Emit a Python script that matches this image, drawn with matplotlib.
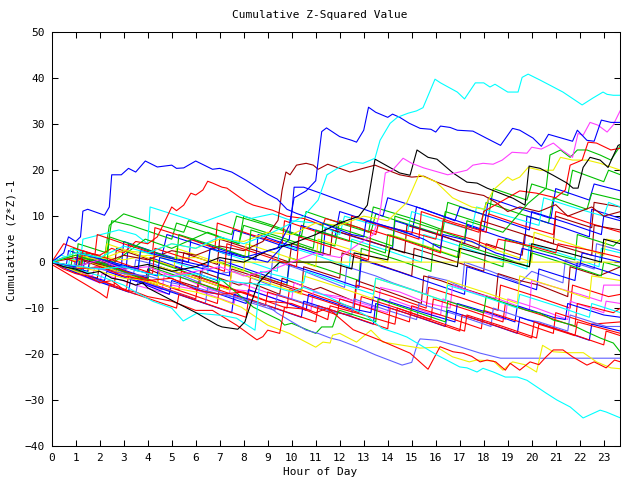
import matplotlib
matplotlib.use('Agg')
import matplotlib.pyplot as plt

# gnuplot-ish palette
RED = '#ff0000'
GREEN = '#00c000'
BLUE = '#0000ff'
MAGENTA = '#ff40ff'
CYAN = '#00ffff'
DARKRED = '#a00000'
YELLOW = '#f0f000'
BLACK = '#000000'
SLATE = '#6060ff'

# (hour, cumulative value) vertices
blue_a = [(0, 0), (0.5, 2), (0.7, 5.5), (1.0, 4.5), (1.2, 5.5), (1.3, 11.1), (1.5, 11.5), (2.2, 10.2),
          (2.4, 12), (2.5, 19), (2.9, 19), (3.2, 20.4), (3.5, 19.6), (3.9, 22), (4.4, 20.7), (5.0, 21.1),
          (5.2, 20.4), (5.5, 20.5), (6.0, 22), (6.7, 20.2), (7.0, 20.4), (7.5, 19.6), (8.1, 17.8),
          (9.0, 14.8), (9.4, 13.7), (9.8, 11.5), (10.2, 10.6), (10.8, 9.5), (11.5, 8), (12.5, 6),
          (13.0, 5.5), (13.1, 9), (14.5, 7), (15.5, 5), (16.2, 3), (16.3, 6), (17.5, 4.5), (18.5, 2),
          (19.5, 0.5), (19.6, 3), (21, 1), (22, -1), (22.1, 2), (23.7, 0)]
blue_high = [(0, 0), (1, -1), (1.1, 2), (2.5, 0), (3.6, -1.5), (3.7, 2.5), (5.2, 0.5), (6.5, -1), (6.6, 3),
             (8.0, 1), (9.4, 3), (9.9, 8), (10.1, 14), (10.6, 15.5), (11.0, 17.7), (11.25, 28.4),
             (11.45, 29.2), (12.0, 27.3), (12.5, 26.5), (12.7, 26.1), (13.0, 28.7), (13.2, 33.7),
             (13.5, 32.6), (14.0, 31.5), (14.2, 32.2), (14.5, 31.5), (14.9, 30.2), (15.35, 29.1),
             (15.8, 28.9), (16.0, 28.3), (16.2, 29.6), (16.6, 29.3), (16.9, 28.7), (17.55, 28.5),
             (18.1, 27.0), (18.7, 25.4), (19.2, 29.1), (19.5, 28.7), (20.05, 27.0), (20.4, 25.2),
             (20.7, 27.8), (21.1, 27.2), (21.7, 26.3), (21.9, 28.7), (22.3, 26.5), (22.6, 26.3),
             (22.9, 30.9), (23.3, 30.4), (23.7, 30.4)]
cyan_top = [(0, 0), (1, 2), (2, 1), (3, 3.5), (4, 2), (5, 4), (6, 3), (7, 5.5), (8, 4), (9, 6), (9.8, 8),
            (10.5, 10), (11.1, 13.5), (11.47, 19), (12.0, 20.7), (12.55, 21.8), (12.97, 21.5),
            (13.47, 22.6), (13.68, 26.5), (14.1, 30.2), (14.4, 31.5), (14.85, 32.4), (15.2, 32.9),
            (15.47, 33.6), (15.97, 39.8), (16.2, 39), (16.9, 37.0), (17.2, 35.5), (17.65, 39),
            (18.0, 39), (18.26, 38.1), (18.47, 38.7), (19.0, 37), (19.43, 37), (19.6, 40.2),
            (19.85, 40.9), (20.35, 39.6), (20.9, 38.1), (21.3, 37), (22.1, 34.2), (22.55, 35.7),
            (22.97, 37), (23.14, 36.5), (23.4, 36.3), (23.7, 36.3)]
cyan_bottom = [(0, 0), (1, -0.8), (2, -1.5), (3, -1), (4, -2.5), (5, -3.2), (6, -2.5), (7, -4), (8, -4.5),
               (9, -5), (10, -6.5), (10.5, -5.5), (11.5, -7.5), (12.43, -9.8), (13.1, -11.6),
               (13.76, -14.4), (14.4, -15.5), (14.8, -16.3), (15.35, -18.0), (16.05, -20.2),
               (16.6, -21.7), (17.0, -22.8), (17.3, -23.0), (17.72, -23.9), (17.97, -23.1),
               (18.4, -23.9), (18.9, -25), (19.4, -25), (19.8, -25.7), (20.6, -28.5), (21.05, -30),
               (21.6, -31.5), (22.14, -33.9), (22.85, -32.2), (23.1, -32.6), (23.7, -33.9)]
cyan_dip = [(0, 0), (1, -1.5), (2, -3), (3, -5), (3.5, -6.5), (4.2, -8.5), (5.0, -10), (5.48, -12.8),
            (6.05, -11.1), (7.1, -11.6), (7.7, -12.2), (8.47, -14.8), (8.6, -8.3), (8.7, -2),
            (9.5, -3), (10.5, -4.5), (10.6, -2), (12.0, -4.5), (13.4, -7), (13.5, -3.5), (15.0, -6),
            (16.4, -8.5), (16.5, -5), (18.0, -7.5), (19.4, -10), (19.5, -7), (21.0, -9.5),
            (22.4, -12), (22.5, -9), (23.7, -11)]
red_top = [(0, 0), (0.5, 1), (1, 0), (1.5, 2), (2, 1.5), (2.5, 3), (3, 2), (3.5, 4.5), (4.0, 4),
           (4.4, 5.5), (4.8, 9.8), (5.0, 12), (5.2, 11.2), (5.5, 12.4), (5.8, 15), (6.0, 14.6),
           (6.3, 15.7), (6.5, 17.6), (6.7, 17.2), (7.1, 16.3), (7.3, 16.1), (7.7, 14.6), (8.1, 13.1),
           (8.4, 12.4), (9.2, 11.3), (9.8, 10), (10.5, 9.5), (11.3, 8), (11.4, 9.5), (12.8, 7.5),
           (13.5, 6), (13.6, 8), (15, 6.5), (16, 5), (16.1, 7), (17.5, 5), (18.5, 3), (18.6, 5),
           (20, 3.5), (21, 2), (21.1, 4), (22.5, 2.5), (23.7, 1)]
darkred_top = [(0, 0), (1, 1), (2, -0.5), (3, 1.5), (4, 0.5), (5, 2.5), (6, 1.5), (7, 3.5), (8, 2.5),
               (8.8, 4.5), (9.43, 9.1), (9.6, 15.7), (9.76, 19.6), (9.93, 19), (10.2, 21.1),
               (10.6, 21.5), (10.9, 21.1), (11.1, 20.2), (11.5, 21.3), (12.0, 20.4), (12.43, 19.6),
               (12.9, 20.3), (13.47, 21.1), (14, 20), (14.5, 19), (15, 18.5), (15.5, 18.7), (16, 17.5),
               (17, 15.5), (18, 14.5), (18.5, 13), (19, 11), (19.5, 12), (20.3, 11), (21, 12.5),
               (21.5, 10), (22, 11), (22.5, 12), (23, 10), (23.7, 11)]
black_right = [(0, 0), (1, -1), (2, 0.5), (3, -1.5), (4, -0.5), (5, -2), (6, -1), (7, 1), (8, 0),
               (9, 2.5), (10, 4), (11, 6), (12, 8.5), (12.8, 10), (13.15, 12.4), (13.47, 22.4),
               (14.5, 19.4), (14.93, 18.9), (15.22, 24.4), (15.68, 22.8), (16.05, 22.4), (16.72, 19.4),
               (17.3, 17.4), (17.72, 17.2), (18.14, 16.1), (18.68, 15.0), (19.22, 13.9), (19.72, 12.4),
               (19.89, 20.9), (20.35, 20.4), (20.89, 18.9), (21.47, 17.2), (21.72, 16.1), (21.93, 16.1),
               (22.14, 20.6), (22.43, 22.8), (22.85, 22.2), (23.18, 20.6), (23.35, 22.6), (23.6, 25.4),
               (23.7, 25.6)]
black_left = [(0, 0), (0.5, -1), (1, -1.5), (1.5, -2.5), (2, -2), (2.5, -3.5), (3, -4), (3.5, -5),
              (3.8, -4.5), (4.0, -5.6), (5.0, -8.3), (6.05, -11.1), (6.9, -13.7), (7.1, -14.1),
              (7.5, -14.4), (7.75, -14.6), (8.05, -13), (8.2, -10.5), (8.35, -8.3), (8.6, -4.6),
              (8.9, -3), (9.5, 0), (11.6, 0), (12.5, -1.5), (12.6, 2), (14, 0.5), (14.1, 3), (15.5, 1),
              (16.9, -1), (17.0, 3), (18.5, 1), (19.9, -1), (20.0, 4), (21.5, 2), (22.9, 0), (23.0, 5),
              (23.7, 4)]
magenta_top = [(0, 0), (1, -1), (2, 0.5), (3, -1.5), (4, -1), (5, -3), (6, -2), (7, -1), (8, -3), (9, -2),
               (10, 0), (11, 2), (12, 1), (12.8, 4), (13.4, 6), (13.68, 10.7), (13.9, 19.4), (14.2, 20),
               (14.64, 22.6), (15.0, 21.5), (15.5, 20.5), (16.5, 19), (17.3, 20), (17.55, 21.1),
               (17.97, 21.5), (18.39, 21.3), (18.77, 22.2), (19.18, 23.9), (19.8, 23.7), (20.0, 25.0),
               (20.4, 24.6), (20.9, 25.9), (21.2, 24.6), (21.7, 22.8), (21.93, 28.0), (22.14, 27.6),
               (22.43, 30.4), (22.76, 29.8), (23.14, 28.3), (23.39, 29.8), (23.7, 33.1)]
red_bottom = [(0, 0), (1, -1.5), (2, -1), (3, -3), (4, -4), (5, -3.5), (6, -6), (7, -7), (8, -6.5),
              (9, -8.5), (10, -9), (11, -11), (11.5, -10), (12.56, -14.7), (13.68, -17), (14.93, -19.8),
              (15.68, -23.3), (16.18, -18.4), (16.72, -19.5), (17.13, -19.8), (17.5, -20.5),
              (17.85, -21.7), (18.14, -21.3), (18.5, -21.7), (18.9, -23.5), (19.1, -22), (19.5, -23.5),
              (19.93, -21.7), (20.3, -22.3), (20.6, -20.6), (20.9, -19.1), (21.3, -19.1), (21.7, -20.6),
              (22.3, -22.4), (22.6, -21.7), (23.1, -23), (23.45, -21.3), (23.7, -21.7)]
red_dip = [(0, 0), (0.5, -1.5), (1, -2.5), (1.5, -3), (2, -4.5), (2.5, -4), (3, -6), (3.5, -6.5),
           (4, -7.5), (5, -8.5), (6, -10.5), (6.7, -10.5), (7.7, -13.7), (8.55, -16.9), (8.8, -16.2),
           (9.0, -14.8), (9.5, -15.5), (9.7, -9.8), (10.5, -10.2), (11.5, -12.5), (11.6, -9.5),
           (13, -11.5), (14.3, -13.5), (14.4, -10), (15.8, -12.5), (17.2, -15), (17.3, -11.5),
           (18.8, -14), (20.2, -16.5), (20.3, -13.5), (21.8, -16), (21.9, -13), (23.7, -15.5)]
yellow_bottom = [(0, 0), (1, -1), (2, -2), (3, -3.5), (4, -4), (5, -5.5), (6, -6.5), (7, -8), (7.9, -9.8),
                 (9.0, -13.7), (9.9, -15.5), (11.0, -18.5), (11.3, -17.4), (11.6, -17.6), (11.7, -15.9),
                 (12.0, -15.5), (12.7, -17.4), (13.3, -14.8), (13.8, -17.4), (15.35, -18.7),
                 (16.05, -18.5), (16.7, -20.6), (17.4, -21.7), (17.7, -21.3), (18.4, -21.5),
                 (18.8, -23.5), (19.2, -21.7), (19.7, -22.3), (20.2, -23.9), (20.45, -18.1),
                 (20.9, -19.5), (21.5, -19.7), (22.15, -19.7), (22.7, -21.7), (23.3, -23), (23.7, -23.2)]
slate_flat = [(0, 0), (1, -1), (2, -1.5), (3, -2.5), (4, -3), (5, -4.5), (6, -5.5), (7, -7), (8, -8),
              (9, -9.5), (9.4, -11.1), (10.6, -14.8), (11.1, -15.5), (11.6, -16.5), (12.0, -17),
              (12.7, -18.4), (13.5, -20.2), (14.6, -22.4), (15.0, -21.8), (15.25, -17.6),
              (15.35, -16.7), (16.05, -17), (17.0, -18.4), (17.85, -19.8), (18.7, -20.9), (23.7, -20.9)]
green_low = [(0, 0), (1.2, -2), (1.3, 1), (2.7, -1.5), (4.0, -4), (4.1, -1), (5.5, -3.5), (6.9, -6),
             (7.0, -3.5), (8.4, -9.8), (9.5, -12.6), (9.7, -13.7), (10.0, -13.3), (10.5, -14.4),
             (11.0, -15.5), (11.25, -14.1), (11.7, -14.1), (11.9, -11.1), (12.0, -10.5), (13.5, -13),
             (13.6, -8), (15.0, -10.5), (16.4, -13), (16.5, -8.5), (18.0, -11), (18.1, -7.5),
             (19.8, -10.5), (20.35, -11.1), (20.9, -12.6), (21.7, -13.7), (22.3, -15.2), (22.85, -16.5),
             (23.4, -17.6), (23.7, -19.6)]
yellow_zero = [(0, 0), (0.5, 0.8), (1, 0.3), (2, 1.2), (3, 0.5), (4, 1.5), (5, 0.8), (6, 1), (6.7, 0),
               (23.7, 0)]
yellow_top = [(0, 0), (1, 1.5), (2, 0.5), (3, 2.5), (4, 2), (5, 4), (6, 3), (7, 5), (8, 4.5), (9, 6.5),
              (10, 6), (11, 8.5), (12, 8), (13, 10), (14, 9), (14.8, 13), (15.3, 19), (16.0, 17.5),
              (16.7, 14), (17.5, 12), (18.0, 11.5), (18.4, 15.7), (19.0, 18.5), (19.2, 17.8),
              (19.5, 18.5), (19.85, 20.6), (20.35, 20), (20.9, 20), (21.2, 22.8), (21.7, 22.2),
              (22.3, 22.2), (22.85, 21.5), (23.7, 20)]
green_tr = [(0, 0), (1.0, 1.5), (2.3, -0.5), (2.4, 5.5), (3.8, 3), (5.2, 0.5), (5.3, 6), (6.8, 3.5),
            (8.2, 1), (8.3, 7), (9.8, 4.5), (11.2, 2), (11.3, 8.5), (12.8, 6), (14.2, 3.5), (14.3, 10),
            (15.8, 7.5), (17.2, 5), (17.3, 9), (18.8, 6.5), (19.85, 12.8), (20.6, 16.1), (20.76, 23.3),
            (21.2, 24.4), (21.6, 22.8), (21.9, 24.4), (22.3, 24.4), (22.85, 23.3), (23.3, 22.2),
            (23.7, 25.4)]
red_right = [(0, 0), (1.2, -1), (1.3, 2.5), (2.8, 0), (4.2, -2.5), (4.3, 3), (5.8, 0.5), (7.2, -2),
             (7.3, 4), (8.8, 1.5), (10.2, -1), (10.3, 5.5), (11.8, 3), (13.2, 0.5), (13.3, 7),
             (14.8, 4.5), (16.2, 2), (16.3, 9), (17.8, 6.5), (18.0, 11), (19.5, 15.5), (20.2, 15),
             (21.0, 14), (21.4, 15.7), (21.6, 21.1), (22.1, 22.2), (22.35, 26.1), (22.7, 25.9),
             (23.3, 24.4), (23.7, 24.8)]
blue_k = [(0, 0), (1.5, -2), (1.6, 1), (3.0, -1), (4.4, -3), (4.5, 1), (6.0, -1), (7.4, -3), (7.5, 2),
          (9.0, 0), (9.9, 5), (10.1, 16.3), (10.5, 16.3), (11.2, 15), (12.5, 12.5), (13.8, 10),
          (14.0, 14), (15.5, 11.5), (16.8, 9), (17.0, 12), (18.5, 9.5), (19.9, 7), (20.0, 11),
          (21.5, 8.5), (22.9, 6), (23.0, 10), (23.7, 9)]

# the crowded band around zero
b01 = [(0, 0), (0.8, -1.2), (0.9, 3), (2.2, 1), (2.4, 8), (3.0, 10.5), (4.2, 8.5), (5.5, 6.5), (5.7, 9),
       (7.5, 6), (7.7, 10), (9.0, 8), (10.4, 5.5), (10.6, 11), (12.0, 8.5), (13.2, 6.5), (13.4, 12),
       (15.0, 9.5), (16.3, 7), (16.5, 13), (18.2, 10), (18.4, 16), (19.8, 13.5), (20.0, 17),
       (21.5, 14.5), (21.7, 20), (23.0, 17.5), (23.2, 20), (23.7, 19)]
b02 = [(0, 0), (0.6, -1), (0.7, 2.5), (2.0, 0.5), (3.1, -1.5), (3.2, 4), (4.6, 1.5), (4.8, 6), (6.0, 4),
       (7.4, 1.5), (7.6, 7), (8.8, 5), (10.2, 2.5), (10.4, 8), (11.8, 5.5), (12.0, 11), (13.5, 8.5),
       (15.0, 6), (15.2, 12), (16.6, 9.5), (18.0, 7), (18.2, 14), (19.6, 11.5), (20.8, 9.5), (21.0, 16),
       (22.4, 13.5), (22.6, 17), (23.7, 15.5)]
b03 = [(0, 0), (1.0, -1.5), (1.1, 4), (2.3, 2), (2.5, 9), (3.3, 8), (5.0, 5), (5.2, 8.5), (6.4, 6.5),
       (7.8, 4), (8.0, 10), (9.2, 8), (10.5, 5.5), (11.8, 3.5), (12.0, 9), (13.3, 6.5), (13.5, 10.5),
       (15.0, 8), (16.2, 6), (16.4, 11), (17.9, 8.5), (18.1, 13), (19.5, 10.5), (20.7, 8.5), (20.9, 14),
       (22.3, 11.5), (22.5, 15), (23.7, 13.5)]
b04 = [(0, 0), (1.3, -2), (1.4, 1.5), (2.9, -1), (3.0, 4.5), (4.4, 2), (5.7, 0), (5.8, 5), (7.2, 2.5),
       (8.5, 0.5), (8.6, 6), (10.0, 3.5), (11.3, 1.5), (11.4, 7.5), (12.9, 5), (14.2, 3), (14.3, 9),
       (15.8, 6.5), (17.2, 4), (17.3, 8), (18.7, 5.5), (19.7, 4), (19.8, 10), (21.3, 7.5), (22.4, 5.5),
       (22.5, 11.5), (23.7, 9.5)]
b05 = [(0, 0), (1.1, -2), (1.2, 0.5), (2.6, -2), (2.7, 3), (4.1, 0.5), (5.4, -1.5), (5.5, 2), (6.9, -0.5),
       (7.0, 5), (8.5, 2.5), (9.9, 0), (10.0, 4), (11.6, 1.5), (11.7, 7), (13.3, 4.5), (14.7, 2), (14.8, 8),
       (16.4, 5.5), (17.8, 3), (17.9, 9), (19.4, 6.5), (20.9, 4), (21.0, 10), (22.5, 7.5), (22.6, 13),
       (23.7, 12)]
b06 = [(0, 0), (0.4, 1.5), (1.2, 0), (1.3, 5), (2.8, 7), (3.5, 6), (4.0, 4), (4.1, 12), (5.0, 10.5),
       (6.2, 8.5), (7.5, 11), (8.3, 9.5), (9.2, 10.5), (10.0, 9), (11.0, 8.5), (12.0, 6), (12.2, 10),
       (13.5, 8), (14.8, 6), (15.0, 11), (16.5, 8.5), (17.5, 7), (17.7, 12), (19.0, 10), (20.3, 8),
       (20.5, 14), (22.0, 11.5), (23.0, 10), (23.2, 13), (23.7, 12)]
b07 = [(0, 0), (0.5, 4), (1.0, 3), (1.8, 1.5), (1.9, 6), (3.0, 4), (4.2, 2), (4.3, 7.5), (5.5, 5.5),
       (6.8, 3), (6.9, 8.5), (8.3, 6), (9.6, 4), (9.7, 9), (11.1, 6.5), (12.4, 4.5), (12.5, 10),
       (13.9, 7.5), (15.3, 5), (15.4, 11), (16.8, 8.5), (18.1, 6.5), (18.2, 10.5), (19.6, 8), (20.9, 6),
       (21.0, 11), (22.4, 8.5), (23.7, 6.5)]
b08 = [(0, 0), (1.5, -2.5), (1.6, 0), (3.0, -2.5), (4.4, -5), (4.5, -1), (6.0, -3.5), (7.4, -6),
       (7.5, -1.5), (9.0, -4), (10.4, -6.5), (10.5, -1), (12.0, -3.5), (12.1, 2), (13.6, -0.5), (15.0, -3),
       (15.1, 3), (16.6, 0.5), (18.0, -2), (18.1, 4), (19.6, 1.5), (19.7, 6), (21.2, 3.5), (22.5, 1.5),
       (22.6, 8), (23.7, 7)]
b09 = [(0, 0), (1.2, -2), (1.3, 1), (2.7, -1.5), (4.0, -3.5), (4.1, 0.5), (5.5, -2), (6.9, -4.5), (7.0, 0),
       (8.4, -2.5), (9.8, -5), (9.9, 1), (11.4, -1.5), (12.8, -4), (12.9, 3), (14.4, 0.5), (15.8, -2),
       (15.9, 4), (17.4, 1.5), (18.8, -1), (18.9, 5), (20.4, 2.5), (21.8, 0.5), (21.9, 6), (23.4, 3.5),
       (23.7, 5)]
b10 = [(0, 0), (0.9, -1.5), (1.0, 1), (2.1, -0.5), (3.4, -3), (3.5, 0.5), (4.3, -0.5), (5.0, -2),
       (6.2, -4.5), (6.3, -1), (7.0, -2.5), (7.6, -2), (9.1, -5), (9.2, 0.5), (10.3, -1.5), (11.0, -3),
       (12.2, -5.5), (12.3, -1), (13.5, -3), (14.2, -4.5), (15.6, -7), (15.7, -3), (16.5, -4),
       (17.1, -5.5), (17.2, 0), (18.3, -2), (19.5, -4.5), (20.0, -2), (21.3, -4.5), (21.4, 0.5),
       (22.6, -1.5), (22.7, 4), (23.7, 2.5)]
b11 = [(0, 0), (0.7, -1), (0.8, 3), (2.2, 0.5), (3.6, -2), (3.7, 2.5), (5.1, 0), (6.5, -2.5), (6.6, 3),
       (8.0, 0.5), (9.4, -2), (9.5, 4), (11.0, 1.5), (12.4, -1), (12.5, 5), (14.0, 2.5), (15.4, 0),
       (15.5, 6), (17.0, 3.5), (18.4, 1), (19.8, -1.5), (19.9, 4), (21.4, 1.5), (22.8, -1), (22.9, 3),
       (23.7, 2)]
b12 = [(0, 0), (0.7, -1.5), (1.9, -3.5), (2.0, -0.5), (2.8, -1.5), (3.9, -4), (4.0, -1.5), (5.2, -4),
       (6.1, -5.5), (6.2, -2), (7.8, -5), (8.3, -4.5), (9.5, -7), (9.6, -3.5), (10.9, -6), (11.2, -5.5),
       (12.6, -8.5), (12.7, -4), (13.8, -6), (15.4, -9), (15.5, -3), (16.2, -4), (17.0, -5.5),
       (18.5, -8), (18.6, -2.5), (19.5, -4), (20.3, -5), (21.5, -7.5), (21.6, -1), (22.8, -3),
       (23.7, -1)]
b13 = [(0, 0), (1.1, -2), (1.2, 1.5), (2.6, -1), (4.0, -3.5), (4.1, 1), (5.5, -1.5), (6.9, -4), (7.0, 0.5),
       (8.4, -2), (9.8, -4.5), (9.9, -0.5), (11.4, -3), (12.8, -5.5), (12.9, 0.5), (14.4, -2),
       (15.8, -4.5), (17.2, -7), (17.3, -1), (18.8, -3.5), (20.2, -6), (20.3, -1.5), (21.8, -4), (21.9, 0),
       (23.4, -2.5), (23.7, -3)]
b14 = [(0, 0), (1.0, -2), (1.7, -3), (1.8, -1), (3.2, -3.5), (4.6, -6), (4.7, -2.5), (5.5, -3.5),
       (6.6, -6), (7.4, -7), (7.5, -4), (9.2, -7), (10.0, -8), (10.1, -4.5), (11.3, -7), (12.0, -7.5),
       (13.6, -10), (13.7, -5.5), (14.5, -6.5), (15.7, -9), (16.6, -10), (16.7, -5), (17.8, -7),
       (18.6, -8), (19.9, -10.5), (20.0, -4), (21.0, -5.5), (22.0, -7), (22.9, -8.5), (23.0, -5),
       (23.7, -5)]
b15 = [(0, 0), (1.0, -2), (1.1, 1.5), (2.5, -1), (3.9, -3.5), (5.3, -6), (5.4, -2), (6.8, -4.5), (8.2, -7),
       (8.3, -2.5), (9.8, -5), (11.2, -7.5), (12.6, -10), (12.7, -5), (14.2, -7.5), (15.6, -10),
       (15.7, -5.5), (17.2, -8), (18.6, -10.5), (18.7, -5), (20.2, -7.5), (21.6, -10), (21.7, -5),
       (23.2, -7.5), (23.7, -7)]
b16 = [(0, 0), (0.8, -2), (2.0, -4.5), (2.1, -2.5), (3.5, -5), (4.9, -7), (5.0, -5), (6.0, -6),
       (7.6, -9), (7.7, -6), (8.5, -6.5), (9.9, -9), (10.8, -10.5), (10.9, -6.5), (12.0, -8), (13.0, -9.5),
       (14.0, -11), (14.1, -8), (15.7, -11), (16.2, -11.5), (16.3, -8), (17.4, -10), (18.9, -12.5),
       (19.0, -8), (20.2, -10), (21.5, -12.5), (21.6, -8.5), (23.0, -11), (23.1, -8.5), (23.7, -9)]
b17 = [(0, 0), (1.2, -2.5), (2.6, -5), (2.7, -1.5), (4.1, -4), (5.5, -6.5), (6.9, -9), (7.0, -5),
       (8.4, -7.5), (9.8, -10), (9.9, -6), (11.4, -8.5), (12.8, -11), (12.9, -7.5), (14.4, -10),
       (15.8, -12.5), (15.9, -8), (17.4, -10.5), (18.8, -13), (18.9, -9), (20.4, -11.5), (21.8, -14),
       (21.9, -9), (23.4, -11), (23.7, -10)]
b18 = [(0, 0), (1.1, -2.5), (2.2, -4), (2.3, -2), (3.7, -4.5), (4.9, -7), (5.0, -4), (6.4, -6.5),
       (7.0, -7), (8.1, -9), (8.2, -6), (9.6, -8.5), (10.6, -10.5), (10.7, -7), (12.4, -10), (13.3, -11),
       (13.4, -7.5), (14.9, -10), (15.5, -11), (16.8, -13), (16.9, -9), (18.2, -11), (19.3, -13),
       (19.4, -9.5), (20.9, -12), (21.4, -12.5), (21.5, -9), (23.0, -11.5), (23.7, -12)]
b19 = [(0, 0), (1.7, -3.5), (3.1, -6), (3.2, -3), (4.6, -5.5), (6.0, -8), (6.1, -4.5), (7.5, -7),
       (8.9, -9.5), (9.0, -6.5), (10.5, -9), (11.9, -11.5), (12.0, -8), (13.5, -10.5), (14.9, -13),
       (15.0, -9.5), (16.5, -12), (17.9, -14.5), (18.0, -10.5), (19.5, -13), (20.9, -15.5), (21.0, -11),
       (22.5, -13.5), (23.7, -13)]
b20 = [(0, 0), (1.2, -2.5), (2.4, -5), (3.5, -7), (3.6, -4), (5.1, -6.5), (6.4, -9), (6.5, -5.5),
       (7.8, -8), (9.3, -10.5), (9.4, -7), (10.9, -9.5), (11.8, -11), (12.5, -11.5), (12.6, -8),
       (14.0, -10.5), (15.2, -12.5), (15.3, -9), (16.9, -11.5), (18.3, -14), (18.4, -10), (19.8, -12.5),
       (20.3, -13), (21.5, -15), (21.6, -11.5), (23.1, -14), (23.7, -14)]
b21 = [(0, 0), (1.8, -4), (3.2, -6.5), (3.3, -3.5), (4.7, -6), (6.1, -8.5), (7.5, -11), (7.6, -7),
       (9.0, -9.5), (10.4, -12), (10.5, -8.5), (12.0, -11), (13.4, -13.5), (13.5, -9), (15.0, -11.5),
       (16.4, -14), (16.5, -10.5), (18.0, -13), (19.4, -15.5), (19.5, -12), (21.0, -14.5), (22.4, -17),
       (22.5, -13.5), (23.7, -15)]
b22 = [(0, -0.5), (1.3, -4.5), (2.0, -6.7), (2.3, -7.8), (2.4, -5), (3.8, -7.5), (5.2, -10), (5.3, -7),
       (6.7, -9.5), (8.1, -12), (8.2, -8), (9.6, -10.5), (11.0, -13), (11.1, -9.5), (12.6, -12),
       (14.0, -14.5), (14.1, -10), (15.6, -12.5), (17.0, -15), (17.1, -11.5), (18.6, -14), (20.0, -16.5),
       (20.1, -13), (21.6, -15.5), (23.0, -18), (23.1, -15), (23.7, -16)]
b23 = [(0, 0), (1.0, 2), (2.2, 0), (2.3, 4), (3.7, 1.5), (5.1, -1), (5.2, 3), (6.6, 0.5), (8.0, -2),
       (8.1, 4), (9.6, 1.5), (11.0, -1), (11.1, 5), (12.6, 2.5), (14.0, 0), (14.1, 6), (15.6, 3.5),
       (17.0, 1), (17.1, 5), (18.6, 2.5), (20.0, 0), (20.1, 6.5), (21.6, 4), (23.0, 1.5), (23.1, 5),
       (23.7, 4.5)]
b24 = [(0, 0), (1.5, -3), (1.6, 0), (3.0, -2.5), (4.4, -5), (4.5, -1), (6.0, -3.5), (7.4, -6), (7.5, -2),
       (9.0, -4.5), (10.4, -7), (10.5, -3), (12.0, -5.5), (13.4, -8), (13.5, -3.5), (15.0, -6),
       (16.4, -8.5), (16.5, -4), (18.0, -6.5), (19.4, -9), (19.5, -3), (21.0, -5.5), (22.4, -8), (22.5, -3),
       (23.7, -4)]
b25 = [(0, 0), (1.1, -1.5), (1.2, 2), (2.6, 0), (3.9, 5), (5.0, 3), (6.5, 6.5), (7.8, 4), (8.0, 8),
       (9.5, 5.5), (10.9, 3), (11.0, 7), (12.5, 4.5), (13.9, 2), (14.0, 6), (15.5, 3.5), (16.9, 1),
       (17.0, 4), (18.5, 1.5), (19.9, -1), (20.0, 2), (21.5, -0.5), (22.9, -3), (23.0, 0), (23.7, -1)]

lines = [
    (b01, GREEN), (b02, BLUE), (b03, GREEN), (b04, BLUE), (b05, DARKRED), (b06, CYAN),
    (b07, RED), (b08, DARKRED), (b09, GREEN), (b10, SLATE), (b11, CYAN), (b12, DARKRED),
    (b13, BLUE), (b14, MAGENTA), (b15, RED), (b16, MAGENTA), (b17, RED), (b18, BLUE),
    (b19, RED), (b20, SLATE), (b21, BLUE), (b22, RED), (b23, YELLOW), (b24, YELLOW), (b25, GREEN),
    (yellow_zero, YELLOW), (blue_k, BLUE), (green_low, GREEN), (slate_flat, SLATE),
    (yellow_bottom, YELLOW), (red_bottom, RED), (red_dip, RED), (cyan_dip, CYAN),
    (black_left, BLACK), (red_top, RED), (darkred_top, DARKRED), (yellow_top, YELLOW),
    (green_tr, GREEN), (red_right, RED), (black_right, BLACK), (magenta_top, MAGENTA),
    (blue_a, BLUE), (blue_high, BLUE), (cyan_top, CYAN), (cyan_bottom, CYAN),
]

plt.rcParams['font.family'] = 'DejaVu Sans Mono'
plt.rcParams['font.size'] = 8

fig = plt.figure(figsize=(6.4, 4.8), dpi=100)
ax = fig.add_axes([51.7 / 640, 1 - 446 / 480, (620.3 - 51.7) / 640, (446 - 32.3) / 480])

for pts, col in lines:
    xs = [p[0] for p in pts]
    ys = [p[1] for p in pts]
    ax.plot(xs, ys, color=col, lw=0.8)

ax.set_xlim(0, 23.69)
ax.set_ylim(-40, 50)
ax.set_xticks(range(0, 24))
ax.set_yticks(range(-40, 51, 10))
ax.tick_params(direction='in', top=True, right=True, length=4, width=0.75, pad=5, labelsize=8)
for sp in ax.spines.values():
    sp.set_linewidth(0.75)

fig.text(0.5, 1 - 15 / 480, 'Cumulative Z-Squared Value', ha='center', va='center', fontsize=8)
fig.text(0.5, 1 - 472 / 480, 'Hour of Day', ha='center', va='center', fontsize=8)
fig.text(12 / 640, 0.5, 'Cumulative (Z*Z)-1', rotation=90, ha='center', va='center', fontsize=8)

fig.savefig('out.png', dpi=100)
